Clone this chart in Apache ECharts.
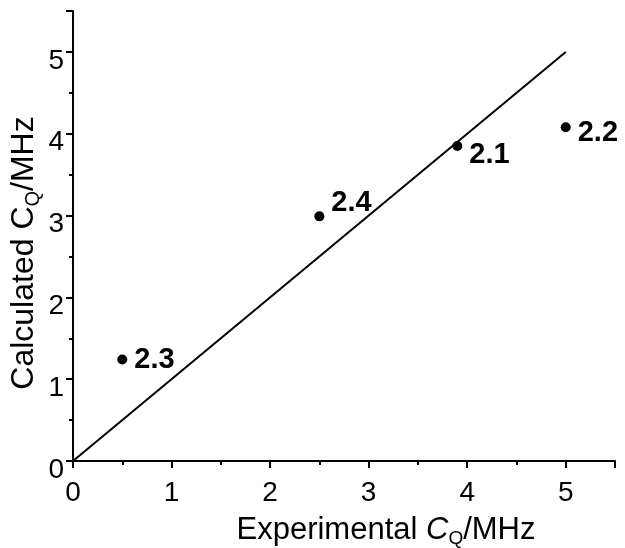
<!DOCTYPE html>
<html>
<head>
<meta charset="utf-8">
<script src="https://cdn.jsdelivr.net/npm/echarts@6/dist/echarts.min.js"></script>
<style>
html,body{margin:0;padding:0;background:#fff;}
#chart{width:625px;height:548px;}
</style>
</head>
<body>
<div id="chart"></div>
<script>
// Data
var pointNames = ['2.1', '2.2', '2.3', '2.4'];
var experimental = [3.9, 5.0, 0.5, 2.5];
var calculated = [3.85, 4.08, 1.24, 2.99];
var lineX = [0, 5];
var lineY = [0, 5];

// label offsets (styling only)
var labelOffsets = {'2.1': [0, 9], '2.2': [0, 6], '2.3': [0, 0], '2.4': [0, -13]};

var chart = echarts.init(document.getElementById('chart'), null, {renderer: 'canvas'});
var font = 'Liberation Sans, Arial, Helvetica, sans-serif';

var scatterData = pointNames.map(function (n, i) {
  return {
    name: n,
    value: [experimental[i], calculated[i]],
    label: {offset: labelOffsets[n]}
  };
});

var lineData = lineX.map(function (x, i) { return [x, lineY[i]]; });

function axisCommon() {
  return {
    min: 0,
    max: 5.5,
    interval: 1,
    nameMoveOverlap: false,
    axisLine: {show: true, lineStyle: {color: '#000', width: 2}},
    axisTick: {show: true, inside: false, length: 7, lineStyle: {color: '#000', width: 2}},
    minorTick: {show: true, splitNumber: 2, length: 4, lineStyle: {color: '#000', width: 2}},
    splitLine: {show: false},
    minorSplitLine: {show: false},
    axisLabel: {color: '#000', fontSize: 28, fontFamily: font, showMaxLabel: false}
  };
}

var xAxis = axisCommon();
xAxis.type = 'value';
xAxis.axisLabel.margin = 18;
xAxis.name = '{n|Experimental }{i|C}{s|Q}{n|/MHz}';
xAxis.nameLocation = 'middle';
xAxis.nameGap = 51;
xAxis.nameTextStyle = {
  color: '#000', fontFamily: font, padding: [0, 0, 0, 84],
  rich: {
    n: {fontSize: 31, fontFamily: font, color: '#000'},
    i: {fontSize: 31, fontFamily: font, color: '#000', fontStyle: 'italic'},
    s: {fontSize: 19, fontFamily: font, color: '#000', padding: [17, 0, 0, 0]}
  }
};

var yAxis = axisCommon();
yAxis.type = 'value';
yAxis.axisLabel.margin = 9;
yAxis.axisLabel.formatter = '{a|{value}}';
yAxis.axisLabel.rich = {
  a: {fontSize: 28, fontFamily: font, color: '#000', padding: [18, 0, 0, 0]}
};
yAxis.name = '{n|Calculated C}{s|Q}{n|/MHz}';
yAxis.nameLocation = 'middle';
yAxis.nameGap = 30;
yAxis.nameTextStyle = {
  color: '#000', fontFamily: font, padding: [0, 34, 0, 0],
  rich: {
    n: {fontSize: 32, fontFamily: font, color: '#000'},
    s: {fontSize: 20, fontFamily: font, color: '#000', padding: [18, 0, 0, 0]}
  }
};

chart.setOption({
  animation: false,
  backgroundColor: '#fff',
  grid: {left: 73, right: 10, top: 11, bottom: 87, containLabel: false, outerBoundsMode: 'none'},
  xAxis: xAxis,
  yAxis: yAxis,
  series: [
    {
      type: 'line',
      data: lineData,
      showSymbol: false,
      symbol: 'none',
      lineStyle: {color: '#000', width: 2},
      z: 2
    },
    {
      type: 'scatter',
      data: scatterData,
      symbol: 'circle',
      symbolSize: 10,
      itemStyle: {color: '#000', opacity: 1},
      label: {
        show: true,
        position: 'right',
        distance: 7,
        formatter: '{b}',
        color: '#000',
        fontSize: 29,
        fontWeight: 'bold',
        fontFamily: font
      },
      z: 3
    }
  ]
});
</script>
</body>
</html>
